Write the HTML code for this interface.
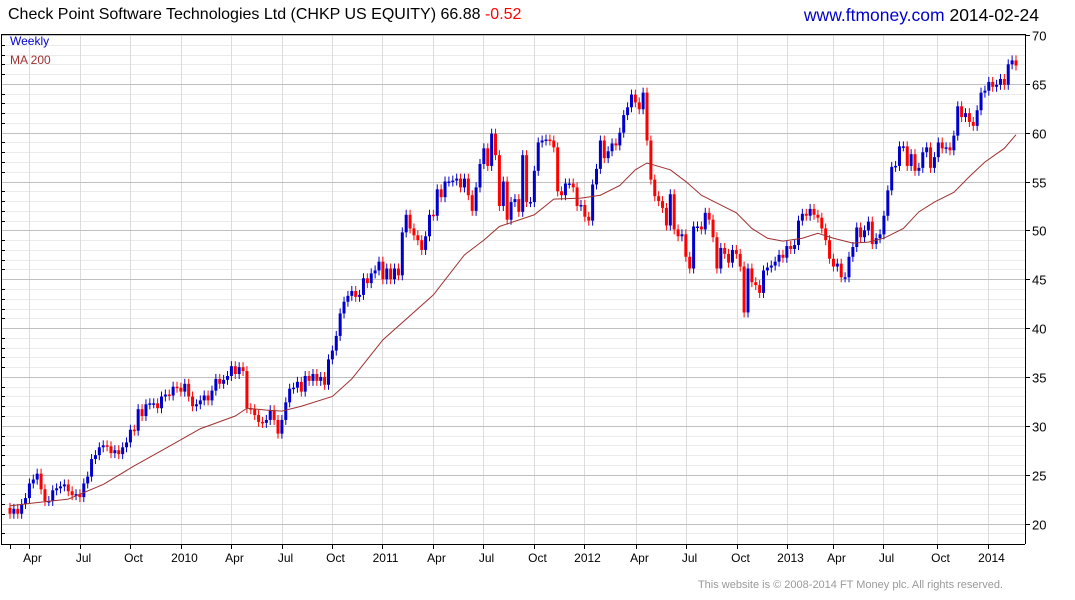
<!DOCTYPE html>
<html><head><meta charset="utf-8"><style>
body{margin:0;background:#fff;width:1075px;height:600px;overflow:hidden;font-family:"Liberation Sans",sans-serif}
#hdr{position:absolute;left:8px;top:6px;font-size:16px;color:#000;white-space:nowrap}
#site{position:absolute;right:36px;top:5px;font-size:17.5px;white-space:nowrap}
#foot{position:absolute;right:72px;top:579px;font-size:11px;color:#999}
svg{position:absolute;left:0;top:0}
</style></head><body>
<div id="hdr">Check Point Software Technologies Ltd (CHKP US EQUITY) 66.88 <span style="color:#f00">-0.52</span></div>
<div id="site"><span style="color:#00c">www.ftmoney.com</span> 2014-02-24</div>
<div id="foot">This website is © 2008-2014 FT Money plc. All rights reserved.</div>
<svg id="ch" width="1075" height="600"></svg>
<script>
const closes=[21.0,21.5,21.0,22.0,22.6,24.1,24.5,25.1,23.5,22.3,22.3,23.4,23.6,23.8,24.0,23.3,22.9,23.0,22.7,24.1,24.8,26.6,27.0,27.8,28.0,27.9,27.2,27.5,27.1,27.8,28.3,29.6,29.5,31.7,31.0,32.2,32.3,32.3,31.8,33.0,33.2,33.1,34.0,33.9,33.5,34.3,33.0,32.0,32.2,32.6,33.1,32.6,33.6,34.8,34.3,34.7,35.1,36.1,35.3,36.0,35.6,31.8,31.7,31.1,30.4,30.3,30.6,31.6,30.6,29.2,30.6,32.4,33.8,33.9,34.5,33.5,35.1,34.6,35.3,34.6,35.0,34.2,
36.8,37.7,39.2,41.5,42.7,43.3,43.8,43.2,43.4,45.1,44.6,45.6,45.9,46.8,45.0,46.1,45.0,46.1,45.4,49.8,51.6,50.2,49.5,49.0,48.0,49.4,51.6,51.5,54.2,53.4,55.0,55.0,55.1,55.3,54.4,55.3,53.6,52.0,54.4,56.8,58.4,56.6,59.9,57.7,52.5,55.0,51.1,52.9,53.2,51.9,57.7,52.9,52.9,56.1,59.0,59.2,59.3,59.2,58.5,54.0,53.6,54.8,54.8,54.4,52.5,52.6,51.4,51.0,54.7,56.3,59.2,
57.4,58.1,58.9,58.7,60.0,61.8,62.6,63.9,63.1,62.4,64.1,59.2,55.2,53.5,53.0,52.3,50.5,53.7,50.1,49.4,49.6,47.3,46.1,50.4,50.4,50.1,51.8,51.1,49.3,46.1,48.2,47.6,46.7,48.0,47.6,46.3,41.6,46.1,44.7,44.4,43.6,45.9,46.2,46.4,46.8,47.5,47.2,48.4,48.1,48.5,51.0,51.7,51.5,52.2,51.6,51.3,50.2,49.0,47.1,46.3,46.6,45.2,45.2,47.3,48.3,
50.3,49.3,50.0,50.9,48.6,49.2,49.6,51.5,54.1,56.5,56.6,58.6,58.6,56.6,57.8,56.1,56.4,58.0,58.5,56.4,57.5,59.0,58.4,58.5,58.2,59.7,62.7,61.6,62.0,61.1,60.7,62.3,64.1,64.3,65.2,64.7,64.9,65.5,64.9,67.0,67.4,66.88];
const firstOpen=21.6;
const maWeek=[0,6,15,24,32,41,49,58,61,66,70,75,83,88,96,109,117,122,126,135,140,147,152,157,161,164,170,174,178,182,187,191,195,199,204,208,212,217,221,225,230,234,238,243,247,251,256,259];
const maVal=[21.8,22.1,22.5,24.0,25.9,27.9,29.7,31.0,31.8,31.6,31.5,32.0,33.0,34.8,38.8,43.4,47.5,49.0,50.4,51.6,53.2,53.3,53.6,54.6,56.2,56.9,56.2,55.0,53.6,52.8,51.8,50.2,49.2,48.9,49.2,49.7,49.2,48.7,48.8,49.2,50.2,51.9,52.9,53.9,55.5,57.0,58.4,59.8];
const yTicks=[20,25,30,35,40,45,50,55,60,65,70];
const xTickWeek=[4.9,18.0,30.9,44.0,56.9,70.0,82.9,95.8,108.9,121.8,134.9,147.8,161.2,174.0,187.2,200.0,211.9,224.8,238.7,251.8];
const xTickLabel=["Apr","Jul","Oct","2010","Apr","Jul","Oct","2011","Apr","Jul","Oct","2012","Apr","Jul","Oct","2013","Apr","Jul","Oct","2014"];

const NS="http://www.w3.org/2000/svg",svg=document.getElementById('ch');
const L=1,R=1025,T=34,B=544;
const step=(1016-10)/(closes.length-1);
const X=i=>10+i*step;
const Y=v=>35+(70-v)*9.77;
function mk(t,a,p){const e=document.createElementNS(NS,t);for(const k in a)e.setAttribute(k,a[k]);(p||svg).appendChild(e);return e;}
for(let v=19;v<=70;v++){if(v%5===0)continue;const y=Math.round(Y(v))+.5;if(y>B)continue;
const g=mk('line',{x1:L,x2:R,y1:y,y2:y,stroke:'#ebebeb'});


mk('line',{x1:L,x2:L+4,y1:y,y2:y,stroke:'#000'});}
xTickWeek.forEach((w,i)=>{const x=Math.round(X(w))+.5;
const g=mk('line',{x1:x,x2:x,y1:T,y2:B,stroke:'#dcdcdc'});


mk('line',{x1:x,x2:x,y1:B,y2:B+5,stroke:'#000'});
const t=mk('text',{x:x+3,y:562,'text-anchor':'middle','font-size':12,fill:'#000','font-family':'Liberation Sans, sans-serif'});t.textContent=xTickLabel[i];

});
mk('line',{x1:10.5,x2:10.5,y1:B,y2:B+5,stroke:'#000'});
yTicks.forEach(v=>{const y=Math.round(Y(v))+.5;
const g=mk('line',{x1:L,x2:R,y1:y,y2:y,stroke:'#c0c0c0'});


mk('line',{x1:R,x2:R+5,y1:y,y2:y,stroke:'#000'});
const t=mk('text',{x:1032,y:y+5,'font-size':13,fill:'#000','font-family':'Liberation Sans, sans-serif'});t.textContent=v;

});
mk('line',{x1:L,x2:R,y1:T+.5,y2:T+.5,stroke:'#000'});
mk('line',{x1:L,x2:R,y1:B+.5,y2:B+.5,stroke:'#000'});
mk('line',{x1:R+.5,x2:R+.5,y1:T,y2:B,stroke:'#000'});
mk('line',{x1:1.5,x2:1.5,y1:T,y2:B,stroke:'#000'});
closes.forEach((c,i)=>{const o=i?closes[i-1]:firstOpen;const up=c>=o;const col=up?'#0000cc':'#ff0000';
const x=X(i),top=Y(Math.max(o,c)),bot=Y(Math.min(o,c));
const g=mk('g',{});


mk('line',{x1:x,x2:x,y1:top-5,y2:bot+5,stroke:col,'stroke-width':1},g);
mk('rect',{x:x-1.5,y:top,width:3,height:Math.max(1.5,bot-top),fill:col},g);});
const ma=mk('polyline',{points:maWeek.map((w,i)=>X(w)+','+Y(maVal[i])).join(' '),fill:'none',stroke:'#a03030','stroke-width':1});


const l1=mk('text',{x:10,y:45,'font-size':12,fill:'#0000cc','font-family':'Liberation Sans, sans-serif'});l1.textContent='Weekly';


const l2=mk('text',{x:10,y:64,'font-size':12,fill:'#a03030','font-family':'Liberation Sans, sans-serif'});l2.textContent='MA 200';


</script>
</body></html>
